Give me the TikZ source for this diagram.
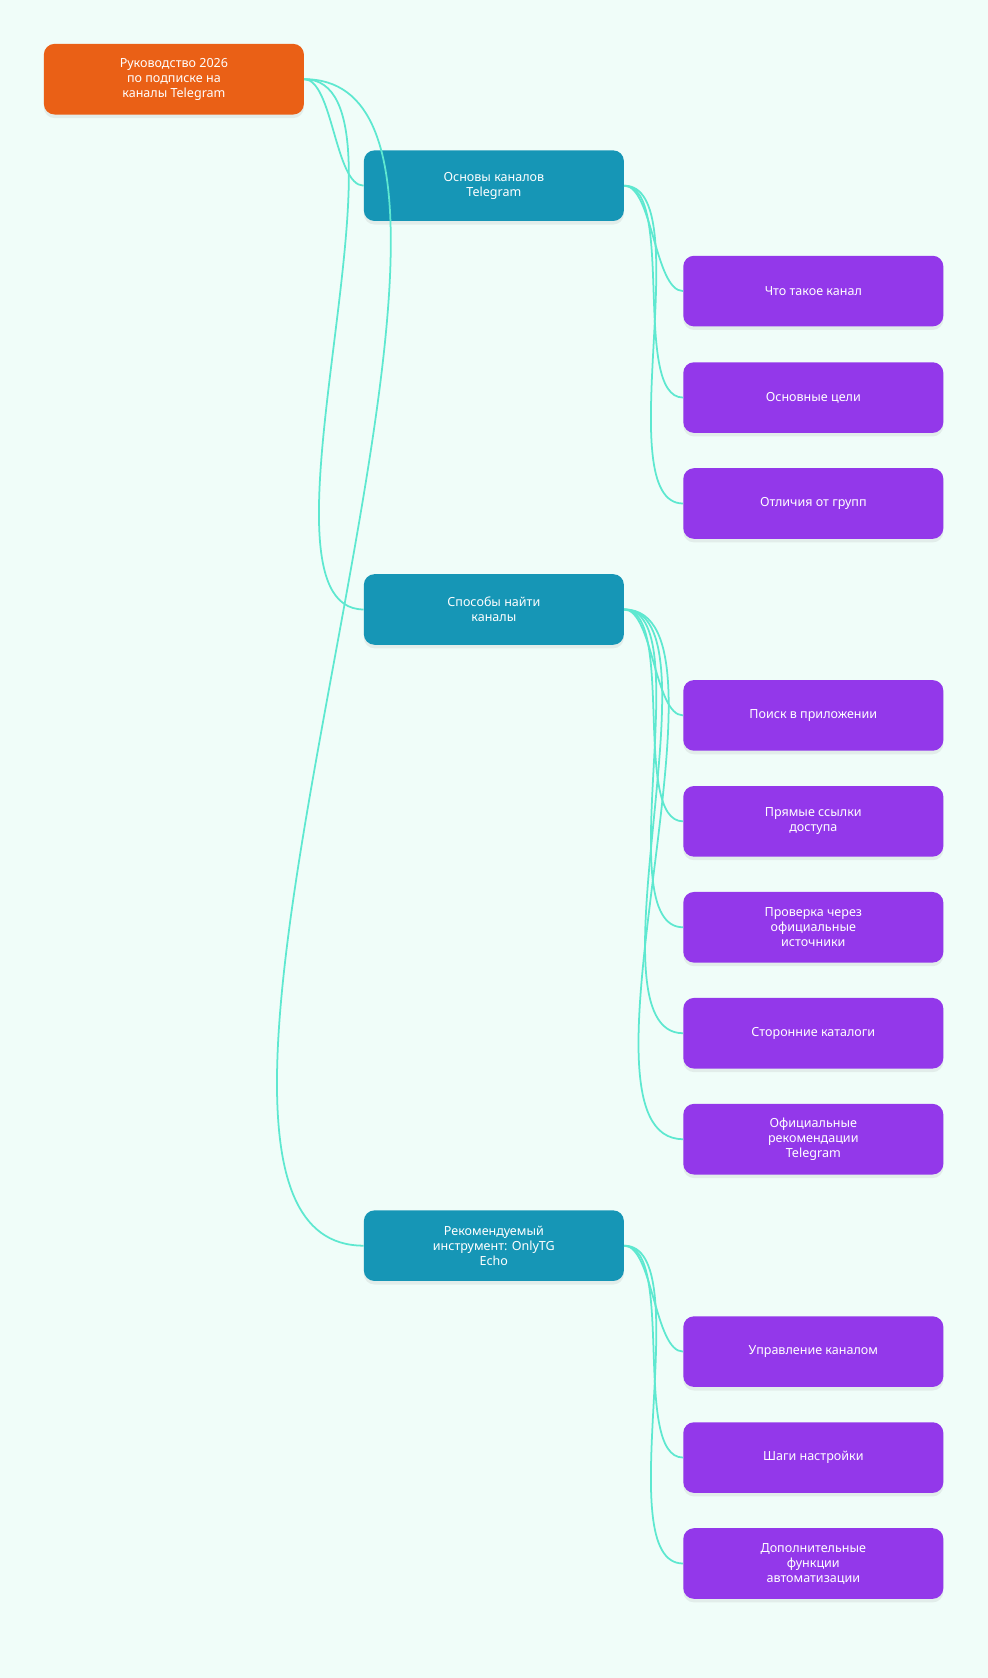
\documentclass[tikz,border=0pt]{standalone}
\usepackage{fontspec}
\setmainfont{Noto Sans}
\usetikzlibrary{shadows}
\definecolor{bgcol}{HTML}{F0FDF9}
\definecolor{rootcol}{HTML}{EA6016}
\definecolor{midcol}{HTML}{1696B6}
\definecolor{leafcol}{HTML}{9338EA}
\definecolor{linkcol}{HTML}{5EE8D0}
\begin{document}
\begin{tikzpicture}[x=0.03cm, y=-0.03cm,
    box/.style = {rounded corners=0.3cm, minimum width=7.29cm, minimum height=1.98cm,
        text=white, font=\bfseries\fontsize{10}{12}\selectfont, align=center,
        drop shadow={opacity=0.12, shadow xshift=0pt, shadow yshift=-0.1cm}},
    root/.style = {box, fill=rootcol},
    mid/.style = {box, fill=midcol},
    leaf/.style = {box, fill=leafcol},
    link/.style = {draw=linkcol, line width=1.4pt, out=0, in=180, looseness=0.6}]
    \fill[bgcol] (0,0) rectangle (923,1568);

    \node[root] (R) at (162.5,74) {Руководство 2026\\по подписке на\\каналы Telegram};

    \node[mid] (M1) at (461.5,173.5) {Основы каналов\\Telegram};
    \node[mid] (M2) at (461.5,569.5) {Способы найти\\каналы};
    \node[mid] (M3) at (461.5,1164) {Рекомендуемый\\инструмент: OnlyTG\\Echo};

    \node[leaf] (L1) at (760,272) {Что такое канал};
    \node[leaf] (L2) at (760,371.5) {Основные цели};
    \node[leaf] (L3) at (760,470.5) {Отличия от групп};

    \node[leaf] (L4) at (760,668.5) {Поиск в приложении};
    \node[leaf] (L5) at (760,767.5) {Прямые ссылки\\доступа};
    \node[leaf] (L6) at (760,866.5) {Проверка через\\официальные\\источники};
    \node[leaf] (L7) at (760,965.5) {Сторонние каталоги};
    \node[leaf] (L8) at (760,1064.5) {Официальные\\рекомендации\\Telegram};

    \node[leaf] (L9) at (760,1263) {Управление каналом};
    \node[leaf] (L10) at (760,1362) {Шаги настройки};
    \node[leaf] (L11) at (760,1461) {Дополнительные\\функции\\автоматизации};

    % root to sections
    \foreach \m in {M1,M2,M3}
        \draw[link] (R.east) to (\m.west);
    % sections to items
    \foreach \l in {L1,L2,L3}
        \draw[link] (M1.east) to (\l.west);
    \foreach \l in {L4,L5,L6,L7,L8}
        \draw[link] (M2.east) to (\l.west);
    \foreach \l in {L9,L10,L11}
        \draw[link] (M3.east) to (\l.west);
\end{tikzpicture}
\end{document}
